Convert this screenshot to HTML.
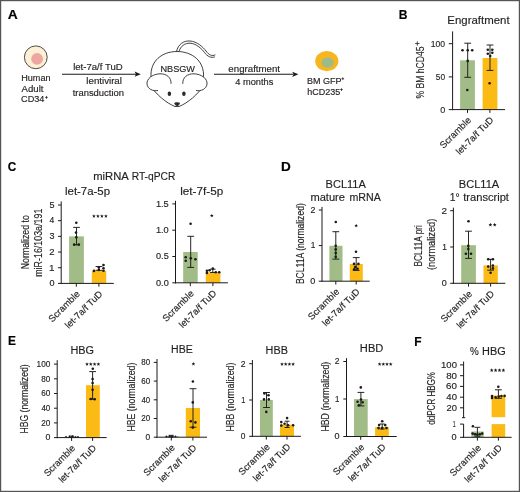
<!DOCTYPE html>
<html><head><meta charset="utf-8"><style>
html,body{margin:0;padding:0;background:#fff;}
body{width:520px;height:492px;overflow:hidden;}
svg{display:block;will-change:transform;}
text{font-family:"Liberation Sans", sans-serif;fill:#231f20;stroke:#231f20;stroke-width:0.15px;}
</style></head><body>
<svg width="520" height="492" viewBox="0 0 520 492">
<rect x="0.6" y="0.6" width="518.8" height="490.8" fill="none" stroke="#555" stroke-width="1.2"/>
<text x="7.75" y="18.80" font-size="12" textLength="10.02" lengthAdjust="spacingAndGlyphs" font-weight="bold" style="fill:#000;stroke:#000">A</text>
<text x="398.78" y="18.80" font-size="12" textLength="8.76" lengthAdjust="spacingAndGlyphs" font-weight="bold" style="fill:#000;stroke:#000">B</text>
<text x="7.83" y="170.70" font-size="12" textLength="8.49" lengthAdjust="spacingAndGlyphs" font-weight="bold" style="fill:#000;stroke:#000">C</text>
<text x="280.99" y="170.70" font-size="12" textLength="9.79" lengthAdjust="spacingAndGlyphs" font-weight="bold" style="fill:#000;stroke:#000">D</text>
<text x="7.89" y="344.70" font-size="12" textLength="7.98" lengthAdjust="spacingAndGlyphs" font-weight="bold" style="fill:#000;stroke:#000">E</text>
<text x="414.29" y="345.50" font-size="12" textLength="7.34" lengthAdjust="spacingAndGlyphs" font-weight="bold" style="fill:#000;stroke:#000">F</text>
<circle cx="35.8" cy="57.3" r="11.4" fill="#fdf0d6" stroke="#4d4a40" stroke-width="1"/>
<circle cx="37.1" cy="58.9" r="5.9" fill="#eea7a0"/>
<text x="21.25" y="80.60" font-size="8.5" textLength="29.23" lengthAdjust="spacingAndGlyphs">Human</text>
<text x="21.58" y="91.60" font-size="8.5" textLength="21.89" lengthAdjust="spacingAndGlyphs">Adult</text>
<text x="21.14" y="102.20" font-size="8.5" textLength="23.32" lengthAdjust="spacingAndGlyphs">CD34</text>
<line x1="45.15" y1="97.40" x2="47.85" y2="97.40" stroke="#231f20" stroke-width="0.75"/>
<line x1="46.50" y1="96.05" x2="46.50" y2="98.75" stroke="#231f20" stroke-width="0.75"/>
<line x1="62.00" y1="74.20" x2="137.00" y2="74.20" stroke="#1a1a1a" stroke-width="1.1"/>
<path d="M140.8,74.2 L134.6,71.6 L136.0,74.2 L134.6,76.8 Z" fill="#1a1a1a"/>
<text x="73.15" y="70.20" font-size="8.4" textLength="49.49" lengthAdjust="spacingAndGlyphs">let-7a/f TuD</text>
<text x="86.34" y="83.70" font-size="8.4" textLength="35.62" lengthAdjust="spacingAndGlyphs">lentiviral</text>
<text x="72.66" y="95.80" font-size="8.4" textLength="51.33" lengthAdjust="spacingAndGlyphs">transduction</text>
<g fill="none" stroke="#2a2a2a" stroke-width="0.9" stroke-linecap="round"><path d="M176.5,51.5 C178,44 184,40.5 190,41 C197,41.5 203,47 206,51 C209,55 212,56.5 215,55"/><path d="M179,51.5 C180.5,46 185,43 190,43.2 C196,43.5 201.5,48.5 204.5,52.5 C207.5,56.5 211,58.2 214.5,57"/></g>
<path d="M151,77 C150,61 162,51.5 177,51.5 C192,51.5 204.5,61 203.5,77" fill="#fff" stroke="#2a2a2a" stroke-width="0.9"/>
<path d="M150.5,86 C156,94 166,103 175,106.5 L179,106.5 C188,103 198,94 203.5,86" fill="#fff" stroke="#2a2a2a" stroke-width="0.9"/>
<path d="M171,83.8 C171.5,77.5 166.5,73.6 160,73.8 C152,74.1 146.5,79 147,84 C147.5,89 153,91.5 158,90.5" fill="#fff" stroke="#2a2a2a" stroke-width="0.9"/>
<path d="M182.8,83.8 C182.3,77.5 187.5,73.6 194,73.8 C202,74.1 207.5,79 207,84 C206.5,89 201,91.5 196,90.5" fill="#fff" stroke="#2a2a2a" stroke-width="0.9"/>
<ellipse cx="169.4" cy="93.8" rx="1.75" ry="2.2" fill="#2a2a2a"/>
<ellipse cx="183.9" cy="93.8" rx="1.75" ry="2.2" fill="#2a2a2a"/>
<path d="M174.6,102.9 C175.5,102.2 178.7,102.2 179.6,102.9 C179.8,104 178.2,105.8 177.1,106 C176,105.8 174.4,104 174.6,102.9 Z" fill="#2a2a2a" stroke="#2a2a2a" stroke-width="0.5" stroke-linejoin="round"/>
<text x="160.44" y="71.80" font-size="9" textLength="34.58" lengthAdjust="spacingAndGlyphs">NBSGW</text>
<line x1="214.00" y1="74.30" x2="293.50" y2="74.30" stroke="#1a1a1a" stroke-width="1.1"/>
<path d="M298.4,74.3 L292.2,71.7 L293.6,74.3 L292.2,76.9 Z" fill="#1a1a1a"/>
<text x="228.39" y="71.50" font-size="8.4" textLength="51.68" lengthAdjust="spacingAndGlyphs">engraftment</text>
<text x="235.29" y="85.20" font-size="8.4" textLength="38.04" lengthAdjust="spacingAndGlyphs">4 months</text>
<ellipse cx="326.8" cy="61.1" rx="11.6" ry="10.1" fill="#f7b520"/>
<ellipse cx="327.6" cy="62.6" rx="6.2" ry="5" fill="#9cbb8c"/>
<text x="307.06" y="83.80" font-size="8.4" textLength="34.50" lengthAdjust="spacingAndGlyphs">BM GFP</text>
<line x1="341.45" y1="78.70" x2="344.15" y2="78.70" stroke="#231f20" stroke-width="0.75"/>
<line x1="342.80" y1="77.35" x2="342.80" y2="80.05" stroke="#231f20" stroke-width="0.75"/>
<text x="307.17" y="94.80" font-size="8.4" textLength="33.00" lengthAdjust="spacingAndGlyphs">hCD235</text>
<line x1="340.15" y1="89.60" x2="342.85" y2="89.60" stroke="#231f20" stroke-width="0.75"/>
<line x1="341.50" y1="88.25" x2="341.50" y2="90.95" stroke="#231f20" stroke-width="0.75"/>
<text x="447.36" y="24.40" font-size="10.4" textLength="62.23" lengthAdjust="spacingAndGlyphs">Engraftment</text>
<g transform="translate(424.00 98.20) rotate(-90)"><text x="-0.30" y="0" font-size="11.2" textLength="52.05" lengthAdjust="spacingAndGlyphs">% BM hCD45</text></g>
<line x1="415.10" y1="43.50" x2="419.50" y2="43.50" stroke="#231f20" stroke-width="0.8"/>
<line x1="417.30" y1="41.30" x2="417.30" y2="45.70" stroke="#231f20" stroke-width="0.8"/>
<rect x="460.10" y="60.30" width="14.80" height="49.30" fill="#a1bc86"/>
<rect x="482.60" y="58.00" width="14.80" height="51.60" fill="#fcba14"/>
<line x1="467.70" y1="43.20" x2="467.70" y2="77.30" stroke="#1a1a1a" stroke-width="0.95"/>
<line x1="464.30" y1="43.20" x2="471.10" y2="43.20" stroke="#1a1a1a" stroke-width="0.95"/>
<line x1="464.30" y1="77.30" x2="471.10" y2="77.30" stroke="#1a1a1a" stroke-width="0.95"/>
<line x1="490.00" y1="45.00" x2="490.00" y2="70.40" stroke="#1a1a1a" stroke-width="0.95"/>
<line x1="486.60" y1="45.00" x2="493.40" y2="45.00" stroke="#1a1a1a" stroke-width="0.95"/>
<line x1="486.60" y1="70.40" x2="493.40" y2="70.40" stroke="#1a1a1a" stroke-width="0.95"/>
<circle cx="462.50" cy="50.30" r="1.3" fill="#1a1a1a"/>
<circle cx="467.70" cy="50.30" r="1.3" fill="#1a1a1a"/>
<circle cx="472.20" cy="50.30" r="1.3" fill="#1a1a1a"/>
<circle cx="467.70" cy="60.90" r="1.3" fill="#1a1a1a"/>
<circle cx="467.30" cy="90.00" r="1.3" fill="#1a1a1a"/>
<circle cx="487.80" cy="49.80" r="1.3" fill="#1a1a1a"/>
<circle cx="492.30" cy="49.80" r="1.3" fill="#1a1a1a"/>
<circle cx="487.80" cy="53.80" r="1.3" fill="#1a1a1a"/>
<circle cx="492.30" cy="52.70" r="1.3" fill="#1a1a1a"/>
<circle cx="490.20" cy="56.10" r="1.3" fill="#1a1a1a"/>
<circle cx="489.60" cy="83.20" r="1.3" fill="#1a1a1a"/>
<line x1="452.60" y1="31.40" x2="452.60" y2="110.10" stroke="#1a1a1a" stroke-width="1"/>
<line x1="448.80" y1="43.70" x2="452.60" y2="43.70" stroke="#1a1a1a" stroke-width="1"/>
<text x="430.75" y="46.90" font-size="9.2" textLength="14.38" lengthAdjust="spacingAndGlyphs">100</text>
<line x1="448.80" y1="76.90" x2="452.60" y2="76.90" stroke="#1a1a1a" stroke-width="1"/>
<text x="435.87" y="80.10" font-size="9.2" textLength="9.27" lengthAdjust="spacingAndGlyphs">50</text>
<line x1="448.80" y1="109.60" x2="452.60" y2="109.60" stroke="#1a1a1a" stroke-width="1"/>
<text x="440.14" y="112.80" font-size="9.2" textLength="5.01" lengthAdjust="spacingAndGlyphs">0</text>
<line x1="452.10" y1="109.60" x2="505.10" y2="109.60" stroke="#1a1a1a" stroke-width="1"/>
<line x1="467.50" y1="109.60" x2="467.50" y2="112.90" stroke="#1a1a1a" stroke-width="1"/>
<line x1="489.90" y1="109.60" x2="489.90" y2="112.90" stroke="#1a1a1a" stroke-width="1"/>
<g transform="translate(471.40 121.10) rotate(-45)"><text x="-39.42" y="0" font-size="9.4" textLength="39.84" lengthAdjust="spacingAndGlyphs">Scramble</text></g>
<g transform="translate(493.80 121.10) rotate(-45)"><text x="-48.24" y="0" font-size="9.4" textLength="48.68" lengthAdjust="spacingAndGlyphs">let-7a/f TuD</text></g>
<text x="93.24" y="179.70" font-size="10" textLength="35.58" lengthAdjust="spacingAndGlyphs">miRNA</text>
<text x="131.76" y="179.70" font-size="10" textLength="43.53" lengthAdjust="spacingAndGlyphs">RT-qPCR</text>
<text x="65.03" y="194.90" font-size="10" textLength="45.05" lengthAdjust="spacingAndGlyphs">let-7a-5p</text>
<text x="180.21" y="194.60" font-size="10" textLength="42.97" lengthAdjust="spacingAndGlyphs">let-7f-5p</text>
<g transform="translate(29.00 268.50) rotate(-90)"><text x="-0.72" y="0" font-size="10.5" textLength="53.99" lengthAdjust="spacingAndGlyphs">Normalized to</text></g>
<g transform="translate(42.40 276.20) rotate(-90)"><text x="-0.60" y="0" font-size="10.5" textLength="68.14" lengthAdjust="spacingAndGlyphs">miR-16/103a/191</text></g>
<rect x="69.10" y="236.36" width="14.80" height="47.04" fill="#a1bc86"/>
<rect x="91.80" y="270.60" width="14.40" height="12.80" fill="#fcba14"/>
<line x1="76.50" y1="227.40" x2="76.50" y2="244.90" stroke="#1a1a1a" stroke-width="0.95"/>
<line x1="73.10" y1="227.40" x2="79.90" y2="227.40" stroke="#1a1a1a" stroke-width="0.95"/>
<line x1="73.10" y1="244.90" x2="79.90" y2="244.90" stroke="#1a1a1a" stroke-width="0.95"/>
<line x1="99.00" y1="266.50" x2="99.00" y2="270.30" stroke="#1a1a1a" stroke-width="0.95"/>
<line x1="95.60" y1="266.50" x2="102.40" y2="266.50" stroke="#1a1a1a" stroke-width="0.95"/>
<line x1="95.60" y1="270.30" x2="102.40" y2="270.30" stroke="#1a1a1a" stroke-width="0.95"/>
<circle cx="76.30" cy="222.70" r="1.3" fill="#1a1a1a"/>
<circle cx="76.00" cy="232.60" r="1.3" fill="#1a1a1a"/>
<circle cx="76.30" cy="237.20" r="1.3" fill="#1a1a1a"/>
<circle cx="74.20" cy="244.60" r="1.3" fill="#1a1a1a"/>
<circle cx="78.80" cy="244.60" r="1.3" fill="#1a1a1a"/>
<circle cx="94.00" cy="270.90" r="1.3" fill="#1a1a1a"/>
<circle cx="98.80" cy="267.50" r="1.3" fill="#1a1a1a"/>
<circle cx="98.80" cy="270.00" r="1.3" fill="#1a1a1a"/>
<circle cx="103.50" cy="265.00" r="1.3" fill="#1a1a1a"/>
<circle cx="103.50" cy="268.30" r="1.3" fill="#1a1a1a"/>
<circle cx="103.50" cy="270.80" r="1.3" fill="#1a1a1a"/>
<polygon points="93.90,214.15 94.40,215.41 95.75,215.50 94.71,216.36 95.05,217.68 93.90,216.95 92.75,217.68 93.09,216.36 92.05,215.50 93.40,215.41" fill="#1a1a1a"/>
<polygon points="97.90,214.15 98.40,215.41 99.75,215.50 98.71,216.36 99.05,217.68 97.90,216.95 96.75,217.68 97.09,216.36 96.05,215.50 97.40,215.41" fill="#1a1a1a"/>
<polygon points="101.90,214.15 102.40,215.41 103.75,215.50 102.71,216.36 103.05,217.68 101.90,216.95 100.75,217.68 101.09,216.36 100.05,215.50 101.40,215.41" fill="#1a1a1a"/>
<polygon points="105.90,214.15 106.40,215.41 107.75,215.50 106.71,216.36 107.05,217.68 105.90,216.95 104.75,217.68 105.09,216.36 104.05,215.50 105.40,215.41" fill="#1a1a1a"/>
<line x1="61.20" y1="201.40" x2="61.20" y2="283.90" stroke="#1a1a1a" stroke-width="1"/>
<line x1="58.00" y1="283.40" x2="61.20" y2="283.40" stroke="#1a1a1a" stroke-width="1"/>
<text x="49.44" y="286.20" font-size="8.2" textLength="5.01" lengthAdjust="spacingAndGlyphs">0</text>
<line x1="58.00" y1="267.72" x2="61.20" y2="267.72" stroke="#1a1a1a" stroke-width="1"/>
<text x="49.05" y="270.52" font-size="8.2" textLength="5.53" lengthAdjust="spacingAndGlyphs">1</text>
<line x1="58.00" y1="252.04" x2="61.20" y2="252.04" stroke="#1a1a1a" stroke-width="1"/>
<text x="49.33" y="254.84" font-size="8.2" textLength="5.26" lengthAdjust="spacingAndGlyphs">2</text>
<line x1="58.00" y1="236.36" x2="61.20" y2="236.36" stroke="#1a1a1a" stroke-width="1"/>
<text x="49.46" y="239.16" font-size="8.2" textLength="5.03" lengthAdjust="spacingAndGlyphs">3</text>
<line x1="58.00" y1="220.68" x2="61.20" y2="220.68" stroke="#1a1a1a" stroke-width="1"/>
<text x="49.61" y="223.48" font-size="8.2" textLength="4.74" lengthAdjust="spacingAndGlyphs">4</text>
<line x1="58.00" y1="205.00" x2="61.20" y2="205.00" stroke="#1a1a1a" stroke-width="1"/>
<text x="49.44" y="207.80" font-size="8.2" textLength="5.03" lengthAdjust="spacingAndGlyphs">5</text>
<line x1="60.70" y1="283.40" x2="113.80" y2="283.40" stroke="#1a1a1a" stroke-width="1"/>
<line x1="76.30" y1="283.40" x2="76.30" y2="286.70" stroke="#1a1a1a" stroke-width="1"/>
<line x1="98.90" y1="283.40" x2="98.90" y2="286.70" stroke="#1a1a1a" stroke-width="1"/>
<g transform="translate(80.20 294.90) rotate(-45)"><text x="-39.42" y="0" font-size="9.4" textLength="39.84" lengthAdjust="spacingAndGlyphs">Scramble</text></g>
<g transform="translate(102.80 294.90) rotate(-45)"><text x="-48.24" y="0" font-size="9.4" textLength="48.68" lengthAdjust="spacingAndGlyphs">let-7a/f TuD</text></g>
<rect x="183.20" y="252.00" width="14.50" height="30.80" fill="#a1bc86"/>
<rect x="205.80" y="272.40" width="14.60" height="10.40" fill="#fcba14"/>
<line x1="190.70" y1="236.30" x2="190.70" y2="267.40" stroke="#1a1a1a" stroke-width="0.95"/>
<line x1="187.30" y1="236.30" x2="194.10" y2="236.30" stroke="#1a1a1a" stroke-width="0.95"/>
<line x1="187.30" y1="267.40" x2="194.10" y2="267.40" stroke="#1a1a1a" stroke-width="0.95"/>
<line x1="212.80" y1="269.20" x2="212.80" y2="272.50" stroke="#1a1a1a" stroke-width="0.95"/>
<line x1="210.05" y1="269.20" x2="215.55" y2="269.20" stroke="#1a1a1a" stroke-width="0.95"/>
<line x1="210.05" y1="272.50" x2="215.55" y2="272.50" stroke="#1a1a1a" stroke-width="0.95"/>
<circle cx="190.60" cy="223.80" r="1.3" fill="#1a1a1a"/>
<circle cx="185.70" cy="257.20" r="1.3" fill="#1a1a1a"/>
<circle cx="185.70" cy="260.80" r="1.3" fill="#1a1a1a"/>
<circle cx="190.80" cy="258.20" r="1.3" fill="#1a1a1a"/>
<circle cx="195.40" cy="259.20" r="1.3" fill="#1a1a1a"/>
<circle cx="206.90" cy="270.80" r="1.3" fill="#1a1a1a"/>
<circle cx="209.50" cy="270.30" r="1.3" fill="#1a1a1a"/>
<circle cx="212.80" cy="268.50" r="1.3" fill="#1a1a1a"/>
<circle cx="215.80" cy="272.20" r="1.3" fill="#1a1a1a"/>
<circle cx="219.20" cy="272.30" r="1.3" fill="#1a1a1a"/>
<circle cx="206.90" cy="272.90" r="1.3" fill="#1a1a1a"/>
<polygon points="211.80,213.75 212.30,215.01 213.65,215.10 212.61,215.96 212.95,217.28 211.80,216.55 210.65,217.28 210.99,215.96 209.95,215.10 211.30,215.01" fill="#1a1a1a"/>
<line x1="175.50" y1="200.80" x2="175.50" y2="283.30" stroke="#1a1a1a" stroke-width="1"/>
<line x1="172.30" y1="203.90" x2="175.50" y2="203.90" stroke="#1a1a1a" stroke-width="1"/>
<text x="155.91" y="206.70" font-size="8.2" textLength="12.87" lengthAdjust="spacingAndGlyphs">1.5</text>
<line x1="172.30" y1="230.20" x2="175.50" y2="230.20" stroke="#1a1a1a" stroke-width="1"/>
<text x="155.91" y="233.00" font-size="8.2" textLength="12.84" lengthAdjust="spacingAndGlyphs">1.0</text>
<line x1="172.30" y1="256.50" x2="175.50" y2="256.50" stroke="#1a1a1a" stroke-width="1"/>
<text x="156.03" y="259.30" font-size="8.2" textLength="12.73" lengthAdjust="spacingAndGlyphs">0.5</text>
<line x1="172.30" y1="282.80" x2="175.50" y2="282.80" stroke="#1a1a1a" stroke-width="1"/>
<text x="156.03" y="285.60" font-size="8.2" textLength="12.71" lengthAdjust="spacingAndGlyphs">0.0</text>
<line x1="175.00" y1="282.80" x2="227.90" y2="282.80" stroke="#1a1a1a" stroke-width="1"/>
<line x1="190.30" y1="282.80" x2="190.30" y2="286.10" stroke="#1a1a1a" stroke-width="1"/>
<line x1="212.90" y1="282.80" x2="212.90" y2="286.10" stroke="#1a1a1a" stroke-width="1"/>
<g transform="translate(194.20 294.30) rotate(-45)"><text x="-39.42" y="0" font-size="9.4" textLength="39.84" lengthAdjust="spacingAndGlyphs">Scramble</text></g>
<g transform="translate(216.80 294.30) rotate(-45)"><text x="-48.24" y="0" font-size="9.4" textLength="48.68" lengthAdjust="spacingAndGlyphs">let-7a/f TuD</text></g>
<text x="325.59" y="187.80" font-size="10" textLength="40.24" lengthAdjust="spacingAndGlyphs">BCL11A</text>
<text x="310.45" y="200.90" font-size="10" textLength="34.55" lengthAdjust="spacingAndGlyphs">mature</text>
<text x="349.48" y="200.90" font-size="10" textLength="31.34" lengthAdjust="spacingAndGlyphs">mRNA</text>
<text x="458.79" y="188.00" font-size="10" textLength="40.45" lengthAdjust="spacingAndGlyphs">BCL11A</text>
<text x="449.72" y="200.90" font-size="10" textLength="9.91" lengthAdjust="spacingAndGlyphs">1°</text>
<text x="463.23" y="200.90" font-size="10" textLength="45.75" lengthAdjust="spacingAndGlyphs">transcript</text>
<g transform="translate(303.70 283.40) rotate(-90)"><text x="-0.71" y="0" font-size="10.5" textLength="80.93" lengthAdjust="spacingAndGlyphs">BCL11A (normalized)</text></g>
<g transform="translate(421.90 265.80) rotate(-90)"><text x="-0.69" y="0" font-size="10.5" textLength="41.44" lengthAdjust="spacingAndGlyphs">BCL11A pri</text></g>
<g transform="translate(435.20 269.50) rotate(-90)"><text x="-0.58" y="0" font-size="10.5" textLength="51.43" lengthAdjust="spacingAndGlyphs">(normalized)</text></g>
<rect x="329.40" y="245.80" width="13.10" height="35.40" fill="#a1bc86"/>
<rect x="349.80" y="264.00" width="13.00" height="17.20" fill="#fcba14"/>
<line x1="335.80" y1="231.70" x2="335.80" y2="259.10" stroke="#1a1a1a" stroke-width="0.95"/>
<line x1="332.40" y1="231.70" x2="339.20" y2="231.70" stroke="#1a1a1a" stroke-width="0.95"/>
<line x1="332.40" y1="259.10" x2="339.20" y2="259.10" stroke="#1a1a1a" stroke-width="0.95"/>
<line x1="356.20" y1="257.60" x2="356.20" y2="270.40" stroke="#1a1a1a" stroke-width="0.95"/>
<line x1="352.80" y1="257.60" x2="359.60" y2="257.60" stroke="#1a1a1a" stroke-width="0.95"/>
<line x1="352.80" y1="270.40" x2="359.60" y2="270.40" stroke="#1a1a1a" stroke-width="0.95"/>
<circle cx="335.80" cy="222.00" r="1.3" fill="#1a1a1a"/>
<circle cx="335.70" cy="245.70" r="1.3" fill="#1a1a1a"/>
<circle cx="335.70" cy="249.40" r="1.3" fill="#1a1a1a"/>
<circle cx="335.70" cy="253.00" r="1.3" fill="#1a1a1a"/>
<circle cx="335.70" cy="256.70" r="1.3" fill="#1a1a1a"/>
<circle cx="356.00" cy="251.80" r="1.3" fill="#1a1a1a"/>
<circle cx="354.00" cy="263.90" r="1.3" fill="#1a1a1a"/>
<circle cx="358.40" cy="263.90" r="1.3" fill="#1a1a1a"/>
<circle cx="355.20" cy="267.00" r="1.3" fill="#1a1a1a"/>
<circle cx="357.60" cy="268.80" r="1.3" fill="#1a1a1a"/>
<circle cx="354.20" cy="269.30" r="1.3" fill="#1a1a1a"/>
<polygon points="356.20,223.65 356.70,224.91 358.05,225.00 357.01,225.86 357.35,227.18 356.20,226.45 355.05,227.18 355.39,225.86 354.35,225.00 355.70,224.91" fill="#1a1a1a"/>
<line x1="322.00" y1="206.90" x2="322.00" y2="281.70" stroke="#1a1a1a" stroke-width="1"/>
<line x1="318.80" y1="210.00" x2="322.00" y2="210.00" stroke="#1a1a1a" stroke-width="1"/>
<text x="310.56" y="212.80" font-size="8.2" textLength="4.89" lengthAdjust="spacingAndGlyphs">2</text>
<line x1="318.80" y1="245.60" x2="322.00" y2="245.60" stroke="#1a1a1a" stroke-width="1"/>
<text x="310.78" y="248.40" font-size="8.2" textLength="4.63" lengthAdjust="spacingAndGlyphs">1</text>
<line x1="318.80" y1="281.20" x2="322.00" y2="281.20" stroke="#1a1a1a" stroke-width="1"/>
<text x="310.34" y="284.00" font-size="8.2" textLength="5.01" lengthAdjust="spacingAndGlyphs">0</text>
<line x1="321.50" y1="281.20" x2="369.70" y2="281.20" stroke="#1a1a1a" stroke-width="1"/>
<line x1="335.80" y1="281.20" x2="335.80" y2="284.50" stroke="#1a1a1a" stroke-width="1"/>
<line x1="356.20" y1="281.20" x2="356.20" y2="284.50" stroke="#1a1a1a" stroke-width="1"/>
<g transform="translate(339.70 292.70) rotate(-45)"><text x="-39.42" y="0" font-size="9.4" textLength="39.84" lengthAdjust="spacingAndGlyphs">Scramble</text></g>
<g transform="translate(360.10 292.70) rotate(-45)"><text x="-48.24" y="0" font-size="9.4" textLength="48.68" lengthAdjust="spacingAndGlyphs">let-7a/f TuD</text></g>
<rect x="461.20" y="245.20" width="14.70" height="38.10" fill="#a1bc86"/>
<rect x="483.50" y="265.40" width="14.30" height="17.90" fill="#fcba14"/>
<line x1="468.50" y1="231.20" x2="468.50" y2="258.40" stroke="#1a1a1a" stroke-width="0.95"/>
<line x1="465.10" y1="231.20" x2="471.90" y2="231.20" stroke="#1a1a1a" stroke-width="0.95"/>
<line x1="465.10" y1="258.40" x2="471.90" y2="258.40" stroke="#1a1a1a" stroke-width="0.95"/>
<line x1="490.60" y1="259.30" x2="490.60" y2="270.20" stroke="#1a1a1a" stroke-width="0.95"/>
<line x1="487.20" y1="259.30" x2="494.00" y2="259.30" stroke="#1a1a1a" stroke-width="0.95"/>
<line x1="487.20" y1="270.20" x2="494.00" y2="270.20" stroke="#1a1a1a" stroke-width="0.95"/>
<circle cx="468.50" cy="221.30" r="1.3" fill="#1a1a1a"/>
<circle cx="468.30" cy="245.90" r="1.3" fill="#1a1a1a"/>
<circle cx="468.30" cy="249.10" r="1.3" fill="#1a1a1a"/>
<circle cx="465.90" cy="253.80" r="1.3" fill="#1a1a1a"/>
<circle cx="471.00" cy="253.80" r="1.3" fill="#1a1a1a"/>
<circle cx="488.20" cy="259.30" r="1.3" fill="#1a1a1a"/>
<circle cx="492.90" cy="259.30" r="1.3" fill="#1a1a1a"/>
<circle cx="488.20" cy="266.60" r="1.3" fill="#1a1a1a"/>
<circle cx="492.90" cy="265.60" r="1.3" fill="#1a1a1a"/>
<circle cx="492.90" cy="268.40" r="1.3" fill="#1a1a1a"/>
<circle cx="490.60" cy="272.70" r="1.3" fill="#1a1a1a"/>
<polygon points="490.40,222.85 490.90,224.11 492.25,224.20 491.21,225.06 491.55,226.38 490.40,225.65 489.25,226.38 489.59,225.06 488.55,224.20 489.90,224.11" fill="#1a1a1a"/>
<polygon points="494.70,222.85 495.20,224.11 496.55,224.20 495.51,225.06 495.85,226.38 494.70,225.65 493.55,226.38 493.89,225.06 492.85,224.20 494.20,224.11" fill="#1a1a1a"/>
<line x1="453.40" y1="207.70" x2="453.40" y2="283.80" stroke="#1a1a1a" stroke-width="1"/>
<line x1="450.20" y1="210.70" x2="453.40" y2="210.70" stroke="#1a1a1a" stroke-width="1"/>
<text x="441.41" y="213.50" font-size="8.2" textLength="5.50" lengthAdjust="spacingAndGlyphs">2</text>
<line x1="450.20" y1="247.00" x2="453.40" y2="247.00" stroke="#1a1a1a" stroke-width="1"/>
<text x="442.18" y="249.80" font-size="8.2" textLength="4.63" lengthAdjust="spacingAndGlyphs">1</text>
<line x1="450.20" y1="283.30" x2="453.40" y2="283.30" stroke="#1a1a1a" stroke-width="1"/>
<text x="441.74" y="286.10" font-size="8.2" textLength="5.01" lengthAdjust="spacingAndGlyphs">0</text>
<line x1="452.90" y1="283.30" x2="505.30" y2="283.30" stroke="#1a1a1a" stroke-width="1"/>
<line x1="468.50" y1="283.30" x2="468.50" y2="286.60" stroke="#1a1a1a" stroke-width="1"/>
<line x1="490.60" y1="283.30" x2="490.60" y2="286.60" stroke="#1a1a1a" stroke-width="1"/>
<g transform="translate(472.40 294.80) rotate(-45)"><text x="-39.42" y="0" font-size="9.4" textLength="39.84" lengthAdjust="spacingAndGlyphs">Scramble</text></g>
<g transform="translate(494.50 294.80) rotate(-45)"><text x="-48.24" y="0" font-size="9.4" textLength="48.68" lengthAdjust="spacingAndGlyphs">let-7a/f TuD</text></g>
<text x="70.40" y="353.70" font-size="10" textLength="23.61" lengthAdjust="spacingAndGlyphs">HBG</text>
<text x="171.13" y="352.50" font-size="10" textLength="21.60" lengthAdjust="spacingAndGlyphs">HBE</text>
<text x="265.61" y="353.80" font-size="10" textLength="22.25" lengthAdjust="spacingAndGlyphs">HBB</text>
<text x="359.88" y="351.50" font-size="10" textLength="23.43" lengthAdjust="spacingAndGlyphs">HBD</text>
<g transform="translate(28.20 432.90) rotate(-90)"><text x="-0.71" y="0" font-size="10.5" textLength="69.33" lengthAdjust="spacingAndGlyphs">HBG (normalized)</text></g>
<g transform="translate(134.60 430.90) rotate(-90)"><text x="-0.72" y="0" font-size="10.5" textLength="68.96" lengthAdjust="spacingAndGlyphs">HBE (normalized)</text></g>
<g transform="translate(234.30 430.90) rotate(-90)"><text x="-0.72" y="0" font-size="10.5" textLength="68.96" lengthAdjust="spacingAndGlyphs">HBB (normalized)</text></g>
<g transform="translate(328.70 430.90) rotate(-90)"><text x="-0.73" y="0" font-size="10.5" textLength="69.87" lengthAdjust="spacingAndGlyphs">HBD (normalized)</text></g>
<rect x="65.00" y="436.87" width="13.60" height="0.73" fill="#a1bc86"/>
<rect x="86.00" y="385.20" width="13.80" height="52.40" fill="#fcba14"/>
<line x1="71.60" y1="436.13" x2="71.60" y2="437.38" stroke="#1a1a1a" stroke-width="0.95"/>
<line x1="69.10" y1="436.13" x2="74.10" y2="436.13" stroke="#1a1a1a" stroke-width="0.95"/>
<line x1="69.10" y1="437.38" x2="74.10" y2="437.38" stroke="#1a1a1a" stroke-width="0.95"/>
<line x1="92.60" y1="371.60" x2="92.60" y2="399.20" stroke="#1a1a1a" stroke-width="0.95"/>
<line x1="89.20" y1="371.60" x2="96.00" y2="371.60" stroke="#1a1a1a" stroke-width="0.95"/>
<line x1="89.20" y1="399.20" x2="96.00" y2="399.20" stroke="#1a1a1a" stroke-width="0.95"/>
<circle cx="66.00" cy="436.80" r="0.9" fill="#1a1a1a"/>
<circle cx="69.50" cy="436.50" r="0.9" fill="#1a1a1a"/>
<circle cx="72.50" cy="436.20" r="0.9" fill="#1a1a1a"/>
<circle cx="75.50" cy="436.80" r="0.9" fill="#1a1a1a"/>
<circle cx="78.00" cy="436.90" r="0.9" fill="#1a1a1a"/>
<circle cx="92.80" cy="368.70" r="1.3" fill="#1a1a1a"/>
<circle cx="92.60" cy="379.00" r="1.3" fill="#1a1a1a"/>
<circle cx="92.60" cy="383.00" r="1.3" fill="#1a1a1a"/>
<circle cx="92.60" cy="389.80" r="1.3" fill="#1a1a1a"/>
<circle cx="90.80" cy="399.00" r="1.3" fill="#1a1a1a"/>
<circle cx="94.60" cy="399.30" r="1.3" fill="#1a1a1a"/>
<polygon points="87.00,362.25 87.50,363.51 88.85,363.60 87.81,364.46 88.15,365.78 87.00,365.05 85.85,365.78 86.19,364.46 85.15,363.60 86.50,363.51" fill="#1a1a1a"/>
<polygon points="90.80,362.25 91.30,363.51 92.65,363.60 91.61,364.46 91.95,365.78 90.80,365.05 89.65,365.78 89.99,364.46 88.95,363.60 90.30,363.51" fill="#1a1a1a"/>
<polygon points="94.60,362.25 95.10,363.51 96.45,363.60 95.41,364.46 95.75,365.78 94.60,365.05 93.45,365.78 93.79,364.46 92.75,363.60 94.10,363.51" fill="#1a1a1a"/>
<polygon points="98.40,362.25 98.90,363.51 100.25,363.60 99.21,364.46 99.55,365.78 98.40,365.05 97.25,365.78 97.59,364.46 96.55,363.60 97.90,363.51" fill="#1a1a1a"/>
<line x1="57.20" y1="360.20" x2="57.20" y2="438.10" stroke="#1a1a1a" stroke-width="1"/>
<line x1="54.00" y1="364.13" x2="57.20" y2="364.13" stroke="#1a1a1a" stroke-width="1"/>
<text x="36.58" y="366.93" font-size="8.2" textLength="13.73" lengthAdjust="spacingAndGlyphs">100</text>
<line x1="54.00" y1="378.82" x2="57.20" y2="378.82" stroke="#1a1a1a" stroke-width="1"/>
<text x="41.25" y="381.62" font-size="8.2" textLength="9.07" lengthAdjust="spacingAndGlyphs">80</text>
<line x1="54.00" y1="393.52" x2="57.20" y2="393.52" stroke="#1a1a1a" stroke-width="1"/>
<text x="41.19" y="396.32" font-size="8.2" textLength="9.14" lengthAdjust="spacingAndGlyphs">60</text>
<line x1="54.00" y1="408.21" x2="57.20" y2="408.21" stroke="#1a1a1a" stroke-width="1"/>
<text x="41.42" y="411.01" font-size="8.2" textLength="8.90" lengthAdjust="spacingAndGlyphs">40</text>
<line x1="54.00" y1="422.91" x2="57.20" y2="422.91" stroke="#1a1a1a" stroke-width="1"/>
<text x="41.19" y="425.71" font-size="8.2" textLength="9.14" lengthAdjust="spacingAndGlyphs">20</text>
<line x1="54.00" y1="437.60" x2="57.20" y2="437.60" stroke="#1a1a1a" stroke-width="1"/>
<text x="45.45" y="440.40" font-size="8.2" textLength="4.89" lengthAdjust="spacingAndGlyphs">0</text>
<line x1="56.70" y1="437.60" x2="106.70" y2="437.60" stroke="#1a1a1a" stroke-width="1"/>
<line x1="71.60" y1="437.60" x2="71.60" y2="440.90" stroke="#1a1a1a" stroke-width="1"/>
<line x1="92.60" y1="437.60" x2="92.60" y2="440.90" stroke="#1a1a1a" stroke-width="1"/>
<g transform="translate(75.50 449.10) rotate(-45)"><text x="-39.42" y="0" font-size="9.4" textLength="39.84" lengthAdjust="spacingAndGlyphs">Scramble</text></g>
<g transform="translate(96.50 449.10) rotate(-45)"><text x="-48.24" y="0" font-size="9.4" textLength="48.68" lengthAdjust="spacingAndGlyphs">let-7a/f TuD</text></g>
<rect x="165.00" y="436.26" width="13.50" height="0.94" fill="#a1bc86"/>
<rect x="185.80" y="408.00" width="14.20" height="29.20" fill="#fcba14"/>
<line x1="171.20" y1="435.33" x2="171.20" y2="436.92" stroke="#1a1a1a" stroke-width="0.95"/>
<line x1="168.70" y1="435.33" x2="173.70" y2="435.33" stroke="#1a1a1a" stroke-width="0.95"/>
<line x1="168.70" y1="436.92" x2="173.70" y2="436.92" stroke="#1a1a1a" stroke-width="0.95"/>
<line x1="193.00" y1="388.70" x2="193.00" y2="427.20" stroke="#1a1a1a" stroke-width="0.95"/>
<line x1="189.60" y1="388.70" x2="196.40" y2="388.70" stroke="#1a1a1a" stroke-width="0.95"/>
<line x1="189.60" y1="427.20" x2="196.40" y2="427.20" stroke="#1a1a1a" stroke-width="0.95"/>
<circle cx="166.50" cy="436.50" r="0.9" fill="#1a1a1a"/>
<circle cx="169.50" cy="436.20" r="0.9" fill="#1a1a1a"/>
<circle cx="172.50" cy="436.50" r="0.9" fill="#1a1a1a"/>
<circle cx="175.50" cy="436.30" r="0.9" fill="#1a1a1a"/>
<circle cx="192.90" cy="381.50" r="1.3" fill="#1a1a1a"/>
<circle cx="192.80" cy="402.40" r="1.3" fill="#1a1a1a"/>
<circle cx="190.80" cy="421.20" r="1.3" fill="#1a1a1a"/>
<circle cx="195.40" cy="422.40" r="1.3" fill="#1a1a1a"/>
<circle cx="192.80" cy="427.60" r="1.3" fill="#1a1a1a"/>
<polygon points="193.40,362.05 193.90,363.31 195.25,363.40 194.21,364.26 194.55,365.58 193.40,364.85 192.25,365.58 192.59,364.26 191.55,363.40 192.90,363.31" fill="#1a1a1a"/>
<line x1="157.00" y1="359.00" x2="157.00" y2="437.70" stroke="#1a1a1a" stroke-width="1"/>
<line x1="153.80" y1="362.40" x2="157.00" y2="362.40" stroke="#1a1a1a" stroke-width="1"/>
<text x="141.26" y="365.20" font-size="8.2" textLength="8.86" lengthAdjust="spacingAndGlyphs">80</text>
<line x1="153.80" y1="381.10" x2="157.00" y2="381.10" stroke="#1a1a1a" stroke-width="1"/>
<text x="141.20" y="383.90" font-size="8.2" textLength="8.92" lengthAdjust="spacingAndGlyphs">60</text>
<line x1="153.80" y1="399.80" x2="157.00" y2="399.80" stroke="#1a1a1a" stroke-width="1"/>
<text x="141.42" y="402.60" font-size="8.2" textLength="8.69" lengthAdjust="spacingAndGlyphs">40</text>
<line x1="153.80" y1="418.50" x2="157.00" y2="418.50" stroke="#1a1a1a" stroke-width="1"/>
<text x="141.20" y="421.30" font-size="8.2" textLength="8.92" lengthAdjust="spacingAndGlyphs">20</text>
<line x1="153.80" y1="437.20" x2="157.00" y2="437.20" stroke="#1a1a1a" stroke-width="1"/>
<text x="145.46" y="440.00" font-size="8.2" textLength="4.66" lengthAdjust="spacingAndGlyphs">0</text>
<line x1="156.50" y1="437.20" x2="207.00" y2="437.20" stroke="#1a1a1a" stroke-width="1"/>
<line x1="171.30" y1="437.20" x2="171.30" y2="440.50" stroke="#1a1a1a" stroke-width="1"/>
<line x1="192.90" y1="437.20" x2="192.90" y2="440.50" stroke="#1a1a1a" stroke-width="1"/>
<g transform="translate(175.10 448.70) rotate(-45)"><text x="-39.42" y="0" font-size="9.4" textLength="39.84" lengthAdjust="spacingAndGlyphs">Scramble</text></g>
<g transform="translate(196.70 448.70) rotate(-45)"><text x="-48.24" y="0" font-size="9.4" textLength="48.68" lengthAdjust="spacingAndGlyphs">let-7a/f TuD</text></g>
<rect x="260.00" y="400.00" width="12.80" height="36.30" fill="#a1bc86"/>
<rect x="280.00" y="424.70" width="14.00" height="11.60" fill="#fcba14"/>
<line x1="266.50" y1="392.50" x2="266.50" y2="407.50" stroke="#1a1a1a" stroke-width="0.95"/>
<line x1="263.10" y1="392.50" x2="269.90" y2="392.50" stroke="#1a1a1a" stroke-width="0.95"/>
<line x1="263.10" y1="407.50" x2="269.90" y2="407.50" stroke="#1a1a1a" stroke-width="0.95"/>
<line x1="287.10" y1="421.20" x2="287.10" y2="427.50" stroke="#1a1a1a" stroke-width="0.95"/>
<line x1="284.60" y1="421.20" x2="289.60" y2="421.20" stroke="#1a1a1a" stroke-width="0.95"/>
<line x1="284.60" y1="427.50" x2="289.60" y2="427.50" stroke="#1a1a1a" stroke-width="0.95"/>
<circle cx="264.40" cy="393.50" r="1.3" fill="#1a1a1a"/>
<circle cx="268.50" cy="395.30" r="1.3" fill="#1a1a1a"/>
<circle cx="264.00" cy="399.40" r="1.3" fill="#1a1a1a"/>
<circle cx="268.80" cy="399.40" r="1.3" fill="#1a1a1a"/>
<circle cx="266.30" cy="411.90" r="1.3" fill="#1a1a1a"/>
<circle cx="287.10" cy="418.10" r="1.3" fill="#1a1a1a"/>
<circle cx="281.30" cy="422.10" r="1.3" fill="#1a1a1a"/>
<circle cx="284.60" cy="423.80" r="1.3" fill="#1a1a1a"/>
<circle cx="281.30" cy="425.60" r="1.3" fill="#1a1a1a"/>
<circle cx="288.10" cy="425.30" r="1.3" fill="#1a1a1a"/>
<circle cx="293.10" cy="425.30" r="1.3" fill="#1a1a1a"/>
<polygon points="282.00,362.25 282.50,363.51 283.85,363.60 282.81,364.46 283.15,365.78 282.00,365.05 280.85,365.78 281.19,364.46 280.15,363.60 281.50,363.51" fill="#1a1a1a"/>
<polygon points="285.70,362.25 286.20,363.51 287.55,363.60 286.51,364.46 286.85,365.78 285.70,365.05 284.55,365.78 284.89,364.46 283.85,363.60 285.20,363.51" fill="#1a1a1a"/>
<polygon points="289.40,362.25 289.90,363.51 291.25,363.60 290.21,364.46 290.55,365.78 289.40,365.05 288.25,365.78 288.59,364.46 287.55,363.60 288.90,363.51" fill="#1a1a1a"/>
<polygon points="293.10,362.25 293.60,363.51 294.95,363.60 293.91,364.46 294.25,365.78 293.10,365.05 291.95,365.78 292.29,364.46 291.25,363.60 292.60,363.51" fill="#1a1a1a"/>
<line x1="252.40" y1="360.00" x2="252.40" y2="436.80" stroke="#1a1a1a" stroke-width="1"/>
<line x1="249.20" y1="363.70" x2="252.40" y2="363.70" stroke="#1a1a1a" stroke-width="1"/>
<text x="240.67" y="366.50" font-size="8.2" textLength="4.77" lengthAdjust="spacingAndGlyphs">2</text>
<line x1="249.20" y1="400.00" x2="252.40" y2="400.00" stroke="#1a1a1a" stroke-width="1"/>
<text x="241.25" y="402.80" font-size="8.2" textLength="4.12" lengthAdjust="spacingAndGlyphs">1</text>
<line x1="249.20" y1="436.30" x2="252.40" y2="436.30" stroke="#1a1a1a" stroke-width="1"/>
<text x="240.66" y="439.10" font-size="8.2" textLength="4.66" lengthAdjust="spacingAndGlyphs">0</text>
<line x1="251.90" y1="436.30" x2="300.90" y2="436.30" stroke="#1a1a1a" stroke-width="1"/>
<line x1="266.30" y1="436.30" x2="266.30" y2="439.60" stroke="#1a1a1a" stroke-width="1"/>
<line x1="287.00" y1="436.30" x2="287.00" y2="439.60" stroke="#1a1a1a" stroke-width="1"/>
<g transform="translate(270.20 447.80) rotate(-45)"><text x="-39.42" y="0" font-size="9.4" textLength="39.84" lengthAdjust="spacingAndGlyphs">Scramble</text></g>
<g transform="translate(290.80 447.80) rotate(-45)"><text x="-48.24" y="0" font-size="9.4" textLength="48.68" lengthAdjust="spacingAndGlyphs">let-7a/f TuD</text></g>
<rect x="354.00" y="399.10" width="13.70" height="37.40" fill="#a1bc86"/>
<rect x="375.10" y="427.00" width="13.70" height="9.50" fill="#fcba14"/>
<line x1="360.90" y1="392.40" x2="360.90" y2="405.90" stroke="#1a1a1a" stroke-width="0.95"/>
<line x1="357.50" y1="392.40" x2="364.30" y2="392.40" stroke="#1a1a1a" stroke-width="0.95"/>
<line x1="357.50" y1="405.90" x2="364.30" y2="405.90" stroke="#1a1a1a" stroke-width="0.95"/>
<line x1="382.20" y1="424.00" x2="382.20" y2="429.00" stroke="#1a1a1a" stroke-width="0.95"/>
<line x1="379.70" y1="424.00" x2="384.70" y2="424.00" stroke="#1a1a1a" stroke-width="0.95"/>
<line x1="379.70" y1="429.00" x2="384.70" y2="429.00" stroke="#1a1a1a" stroke-width="0.95"/>
<circle cx="360.80" cy="387.40" r="1.3" fill="#1a1a1a"/>
<circle cx="361.00" cy="399.50" r="1.3" fill="#1a1a1a"/>
<circle cx="357.60" cy="401.80" r="1.3" fill="#1a1a1a"/>
<circle cx="362.60" cy="402.20" r="1.3" fill="#1a1a1a"/>
<circle cx="358.90" cy="405.20" r="1.3" fill="#1a1a1a"/>
<circle cx="382.20" cy="421.30" r="1.3" fill="#1a1a1a"/>
<circle cx="379.10" cy="425.10" r="1.3" fill="#1a1a1a"/>
<circle cx="385.20" cy="425.10" r="1.3" fill="#1a1a1a"/>
<circle cx="378.50" cy="428.10" r="1.3" fill="#1a1a1a"/>
<circle cx="382.20" cy="428.10" r="1.3" fill="#1a1a1a"/>
<circle cx="386.50" cy="428.10" r="1.3" fill="#1a1a1a"/>
<polygon points="379.60,362.25 380.10,363.51 381.45,363.60 380.41,364.46 380.75,365.78 379.60,365.05 378.45,365.78 378.79,364.46 377.75,363.60 379.10,363.51" fill="#1a1a1a"/>
<polygon points="383.30,362.25 383.80,363.51 385.15,363.60 384.11,364.46 384.45,365.78 383.30,365.05 382.15,365.78 382.49,364.46 381.45,363.60 382.80,363.51" fill="#1a1a1a"/>
<polygon points="387.00,362.25 387.50,363.51 388.85,363.60 387.81,364.46 388.15,365.78 387.00,365.05 385.85,365.78 386.19,364.46 385.15,363.60 386.50,363.51" fill="#1a1a1a"/>
<polygon points="390.70,362.25 391.20,363.51 392.55,363.60 391.51,364.46 391.85,365.78 390.70,365.05 389.55,365.78 389.89,364.46 388.85,363.60 390.20,363.51" fill="#1a1a1a"/>
<line x1="346.50" y1="358.20" x2="346.50" y2="437.00" stroke="#1a1a1a" stroke-width="1"/>
<line x1="343.30" y1="361.50" x2="346.50" y2="361.50" stroke="#1a1a1a" stroke-width="1"/>
<text x="334.77" y="364.30" font-size="8.2" textLength="4.77" lengthAdjust="spacingAndGlyphs">2</text>
<line x1="343.30" y1="399.00" x2="346.50" y2="399.00" stroke="#1a1a1a" stroke-width="1"/>
<text x="335.11" y="401.80" font-size="8.2" textLength="4.37" lengthAdjust="spacingAndGlyphs">1</text>
<line x1="343.30" y1="436.50" x2="346.50" y2="436.50" stroke="#1a1a1a" stroke-width="1"/>
<text x="334.44" y="439.30" font-size="8.2" textLength="5.01" lengthAdjust="spacingAndGlyphs">0</text>
<line x1="346.00" y1="436.50" x2="396.70" y2="436.50" stroke="#1a1a1a" stroke-width="1"/>
<line x1="360.70" y1="436.50" x2="360.70" y2="439.80" stroke="#1a1a1a" stroke-width="1"/>
<line x1="382.10" y1="436.50" x2="382.10" y2="439.80" stroke="#1a1a1a" stroke-width="1"/>
<g transform="translate(364.60 448.00) rotate(-45)"><text x="-39.42" y="0" font-size="9.4" textLength="39.84" lengthAdjust="spacingAndGlyphs">Scramble</text></g>
<g transform="translate(386.10 448.00) rotate(-45)"><text x="-48.24" y="0" font-size="9.4" textLength="48.68" lengthAdjust="spacingAndGlyphs">let-7a/f TuD</text></g>
<text x="469.95" y="354.50" font-size="10" textLength="8.78" lengthAdjust="spacingAndGlyphs">%</text>
<text x="482.10" y="354.50" font-size="10" textLength="23.61" lengthAdjust="spacingAndGlyphs">HBG</text>
<g transform="translate(434.50 424.40) rotate(-90)"><text x="-0.34" y="0" font-size="10.5" textLength="52.73" lengthAdjust="spacingAndGlyphs">ddPCR HBG%</text></g>
<rect x="471.40" y="431.50" width="12.30" height="5.80" fill="#a1bc86"/>
<rect x="491.60" y="395.50" width="13.60" height="21.70" fill="#fcba14"/>
<rect x="491.60" y="424.10" width="13.60" height="13.20" fill="#fcba14"/>
<line x1="477.40" y1="427.30" x2="477.40" y2="436.20" stroke="#1a1a1a" stroke-width="0.95"/>
<line x1="474.50" y1="427.30" x2="480.30" y2="427.30" stroke="#1a1a1a" stroke-width="0.95"/>
<line x1="474.50" y1="436.20" x2="480.30" y2="436.20" stroke="#1a1a1a" stroke-width="0.95"/>
<line x1="498.40" y1="389.80" x2="498.40" y2="398.30" stroke="#1a1a1a" stroke-width="0.95"/>
<line x1="495.00" y1="389.80" x2="501.80" y2="389.80" stroke="#1a1a1a" stroke-width="0.95"/>
<line x1="495.00" y1="398.30" x2="501.80" y2="398.30" stroke="#1a1a1a" stroke-width="0.95"/>
<circle cx="472.90" cy="426.20" r="1.3" fill="#1a1a1a"/>
<circle cx="472.60" cy="433.60" r="1.3" fill="#1a1a1a"/>
<circle cx="475.00" cy="434.30" r="1.3" fill="#1a1a1a"/>
<circle cx="477.30" cy="434.60" r="1.3" fill="#1a1a1a"/>
<circle cx="479.80" cy="434.30" r="1.3" fill="#1a1a1a"/>
<circle cx="482.20" cy="433.60" r="1.3" fill="#1a1a1a"/>
<circle cx="498.30" cy="386.70" r="1.3" fill="#1a1a1a"/>
<circle cx="492.00" cy="396.10" r="1.3" fill="#1a1a1a"/>
<circle cx="492.00" cy="397.90" r="1.3" fill="#1a1a1a"/>
<circle cx="495.60" cy="397.40" r="1.3" fill="#1a1a1a"/>
<circle cx="498.80" cy="396.50" r="1.3" fill="#1a1a1a"/>
<circle cx="501.40" cy="396.10" r="1.3" fill="#1a1a1a"/>
<circle cx="504.60" cy="395.90" r="1.3" fill="#1a1a1a"/>
<polygon points="491.70,368.35 492.20,369.61 493.55,369.70 492.51,370.56 492.85,371.88 491.70,371.15 490.55,371.88 490.89,370.56 489.85,369.70 491.20,369.61" fill="#1a1a1a"/>
<polygon points="495.60,368.35 496.10,369.61 497.45,369.70 496.41,370.56 496.75,371.88 495.60,371.15 494.45,371.88 494.79,370.56 493.75,369.70 495.10,369.61" fill="#1a1a1a"/>
<polygon points="499.50,368.35 500.00,369.61 501.35,369.70 500.31,370.56 500.65,371.88 499.50,371.15 498.35,371.88 498.69,370.56 497.65,369.70 499.00,369.61" fill="#1a1a1a"/>
<polygon points="503.40,368.35 503.90,369.61 505.25,369.70 504.21,370.56 504.55,371.88 503.40,371.15 502.25,371.88 502.59,370.56 501.55,369.70 502.90,369.61" fill="#1a1a1a"/>
<line x1="463.60" y1="361.50" x2="463.60" y2="417.70" stroke="#1a1a1a" stroke-width="1"/>
<line x1="462.00" y1="417.70" x2="465.20" y2="417.70" stroke="#1a1a1a" stroke-width="1"/>
<line x1="463.60" y1="424.10" x2="463.60" y2="437.80" stroke="#1a1a1a" stroke-width="1"/>
<line x1="460.00" y1="364.90" x2="463.60" y2="364.90" stroke="#1a1a1a" stroke-width="1"/>
<text x="441.09" y="367.90" font-size="8.6" textLength="15.88" lengthAdjust="spacingAndGlyphs">100</text>
<line x1="460.00" y1="375.70" x2="463.60" y2="375.70" stroke="#1a1a1a" stroke-width="1"/>
<text x="446.19" y="378.70" font-size="8.6" textLength="10.80" lengthAdjust="spacingAndGlyphs">80</text>
<line x1="460.00" y1="386.40" x2="463.60" y2="386.40" stroke="#1a1a1a" stroke-width="1"/>
<text x="446.11" y="389.40" font-size="8.6" textLength="10.88" lengthAdjust="spacingAndGlyphs">60</text>
<line x1="460.00" y1="397.20" x2="463.60" y2="397.20" stroke="#1a1a1a" stroke-width="1"/>
<text x="446.39" y="400.20" font-size="8.6" textLength="10.59" lengthAdjust="spacingAndGlyphs">40</text>
<line x1="460.00" y1="407.80" x2="463.60" y2="407.80" stroke="#1a1a1a" stroke-width="1"/>
<text x="446.53" y="410.80" font-size="8.6" textLength="10.44" lengthAdjust="spacingAndGlyphs">20</text>
<line x1="460.00" y1="424.10" x2="463.60" y2="424.10" stroke="#1a1a1a" stroke-width="1"/>
<text x="452.82" y="427.10" font-size="8.6" textLength="2.83" lengthAdjust="spacingAndGlyphs">1</text>
<line x1="460.00" y1="437.30" x2="463.60" y2="437.30" stroke="#1a1a1a" stroke-width="1"/>
<text x="451.63" y="440.30" font-size="8.6" textLength="5.12" lengthAdjust="spacingAndGlyphs">0</text>
<line x1="463.10" y1="437.30" x2="511.60" y2="437.30" stroke="#1a1a1a" stroke-width="1"/>
<line x1="477.40" y1="437.30" x2="477.40" y2="440.60" stroke="#1a1a1a" stroke-width="1"/>
<line x1="498.40" y1="437.30" x2="498.40" y2="440.60" stroke="#1a1a1a" stroke-width="1"/>
<g transform="translate(481.30 448.80) rotate(-45)"><text x="-39.42" y="0" font-size="9.4" textLength="39.84" lengthAdjust="spacingAndGlyphs">Scramble</text></g>
<g transform="translate(502.30 448.80) rotate(-45)"><text x="-48.24" y="0" font-size="9.4" textLength="48.68" lengthAdjust="spacingAndGlyphs">let-7a/f TuD</text></g>
</svg>
</body></html>
